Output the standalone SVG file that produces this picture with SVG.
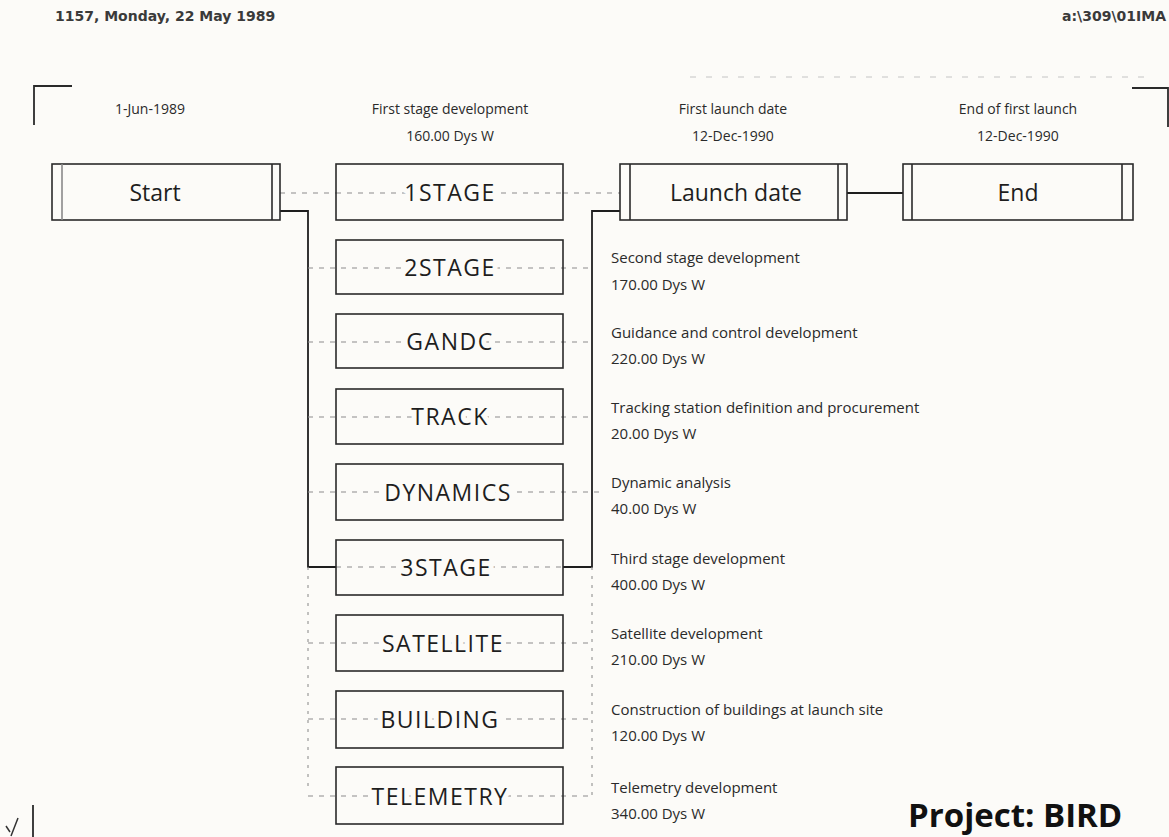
<svg xmlns="http://www.w3.org/2000/svg" width="1169" height="837" viewBox="0 0 1169 837">
<style>
.bg{fill:#fcfbf8}
.box{fill:none;stroke:#2a2a2a;stroke-width:1.6}
.bar{stroke:#2a2a2a;stroke-width:1.6}
.barg{stroke:#8a8a8a;stroke-width:1.6}
.lbl{font-family:"Open Sans","Noto Sans",sans-serif;font-size:23px;fill:#1e1e1e;text-anchor:middle;stroke:#fcfbf8;stroke-width:10px;paint-order:stroke;stroke-linejoin:round}
.cap{letter-spacing:1.5px}
.hd{font-family:"Open Sans","Noto Sans",sans-serif;font-size:14px;fill:#2a2a2a;text-anchor:middle}
.ds{font-family:"Open Sans","Noto Sans",sans-serif;font-size:15px;fill:#2a2a2a}
.top{font-family:"DejaVu Sans",sans-serif;font-size:14px;font-weight:bold;fill:#3a3a3a}
.solid{fill:none;stroke:#1e1e1e;stroke-width:1.8}
.dash{fill:none;stroke:#8c8c8c;stroke-width:1.2;stroke-dasharray:5 6}
.dot{fill:none;stroke:#9a9a9a;stroke-width:1.2;stroke-dasharray:3 6}
.mark{fill:none;stroke:#2a2a2a;stroke-width:1.8}
</style>
<rect class="bg" x="0" y="0" width="1169" height="837"/>

<text class="top" x="55" y="21">1157, Monday, 22 May 1989</text>
<text class="top" x="1166" y="21" text-anchor="end">a:\309\01IMA</text>

<path class="mark" d="M34 125 V86 H72"/>
<path class="mark" d="M1132 88 H1168 V127"/>
<path d="M690 77 H1150" stroke="#c4c4c4" stroke-width="1" stroke-dasharray="6 10" fill="none"/>

<g id="headers">
<text class="hd" x="150" y="114">1-Jun-1989</text>
<text class="hd" x="450" y="114">First stage development</text>
<text class="hd" x="450" y="141">160.00 Dys W</text>
<text class="hd" x="733" y="114">First launch date</text>
<text class="hd" x="733" y="141">12-Dec-1990</text>
<text class="hd" x="1018" y="114">End of first launch</text>
<text class="hd" x="1018" y="141">12-Dec-1990</text>
</g>

<g id="connectors">
<path class="dash" d="M280 193 H336"/>
<path class="dash" d="M563 193 H620"/>
<path class="solid" d="M847 193 H903"/>
<path class="solid" d="M280 211 H308 V567 H336"/>
<path class="solid" d="M563 567 H592 V211 H620"/>
<path class="dot" d="M308 567 V790"/>
<path class="dot" d="M592 567 V800"/>
<path class="dash" d="M336 193 H563"/>
<path class="dash" d="M308 268 H592"/>
<path class="dash" d="M308 342 H592"/>
<path class="dash" d="M308 417 H592"/>
<path class="dash" d="M308 492 H600"/>
<path class="dash" d="M336 567 H563" stroke="#555"/>
<path class="dash" d="M308 643 H592"/>
<path class="dash" d="M308 719 H592"/>
<path class="dash" d="M308 796 H592"/>
</g>

<g id="start">
<rect class="box" x="52" y="164" width="228" height="56"/>
<line class="barg" x1="62" y1="164" x2="62" y2="220"/>
<line class="bar" x1="272" y1="164" x2="272" y2="220"/>
<text class="lbl" x="155" y="201">Start</text>
</g>

<g id="n1stage">
<rect class="box" x="336" y="164" width="227" height="56"/>
<text class="lbl cap" x="450" y="201">1STAGE</text>
</g>

<g id="launch">
<rect class="box" x="620" y="164" width="227" height="56"/>
<line class="bar" x1="630" y1="164" x2="630" y2="220"/>
<line class="bar" x1="838" y1="164" x2="838" y2="220"/>
<text class="lbl" x="736" y="201">Launch date</text>
</g>

<g id="end">
<rect class="box" x="903" y="164" width="230" height="56"/>
<line class="bar" x1="912" y1="164" x2="912" y2="220"/>
<line class="bar" x1="1122" y1="164" x2="1122" y2="220"/>
<text class="lbl" x="1018" y="201">End</text>
</g>

<g id="n2stage">
<rect class="box" x="336" y="240" width="227" height="54"/>
<text class="lbl cap" x="450" y="276">2STAGE</text>
<text class="ds" x="611" y="263">Second stage development</text>
<text class="ds" x="611" y="290">170.00 Dys W</text>
</g>

<g id="gandc">
<rect class="box" x="336" y="314" width="227" height="54"/>
<text class="lbl cap" x="450" y="350">GANDC</text>
<text class="ds" x="611" y="338">Guidance and control development</text>
<text class="ds" x="611" y="364">220.00 Dys W</text>
</g>

<g id="track">
<rect class="box" x="336" y="389" width="227" height="55"/>
<text class="lbl cap" x="450" y="425">TRACK</text>
<text class="ds" x="611" y="413">Tracking station definition and procurement</text>
<text class="ds" x="611" y="439">20.00 Dys W</text>
</g>

<g id="dynamics">
<rect class="box" x="336" y="464" width="227" height="56"/>
<text class="lbl cap" x="448" y="501">DYNAMICS</text>
<text class="ds" x="611" y="488">Dynamic analysis</text>
<text class="ds" x="611" y="514">40.00 Dys W</text>
</g>

<g id="n3stage">
<rect class="box" x="336" y="540" width="227" height="55"/>
<text class="lbl cap" x="446" y="576">3STAGE</text>
<text class="ds" x="611" y="564">Third stage development</text>
<text class="ds" x="611" y="590">400.00 Dys W</text>
</g>

<g id="satellite">
<rect class="box" x="336" y="615" width="227" height="56"/>
<text class="lbl cap" x="443" y="652">SATELLITE</text>
<text class="ds" x="611" y="639">Satellite development</text>
<text class="ds" x="611" y="665">210.00 Dys W</text>
</g>

<g id="building">
<rect class="box" x="336" y="691" width="227" height="57"/>
<text class="lbl cap" x="440" y="728">BUILDING</text>
<text class="ds" x="611" y="715">Construction of buildings at launch site</text>
<text class="ds" x="611" y="741">120.00 Dys W</text>
</g>

<g id="telemetry">
<rect class="box" x="336" y="767" width="227" height="57"/>
<text class="lbl cap" x="440" y="805">TELEMETRY</text>
<text class="ds" x="611" y="793">Telemetry development</text>
<text class="ds" x="611" y="819">340.00 Dys W</text>
</g>

<text x="908" y="827" font-family="'Open Sans','Noto Sans',sans-serif" font-size="33" font-weight="bold" fill="#111">Project: BIRD</text>

<path class="mark" d="M33 805 V837"/>
<path d="M6 826 L10 832 M11 836 L18 818" stroke="#333" stroke-width="1.5" fill="none"/>
</svg>
